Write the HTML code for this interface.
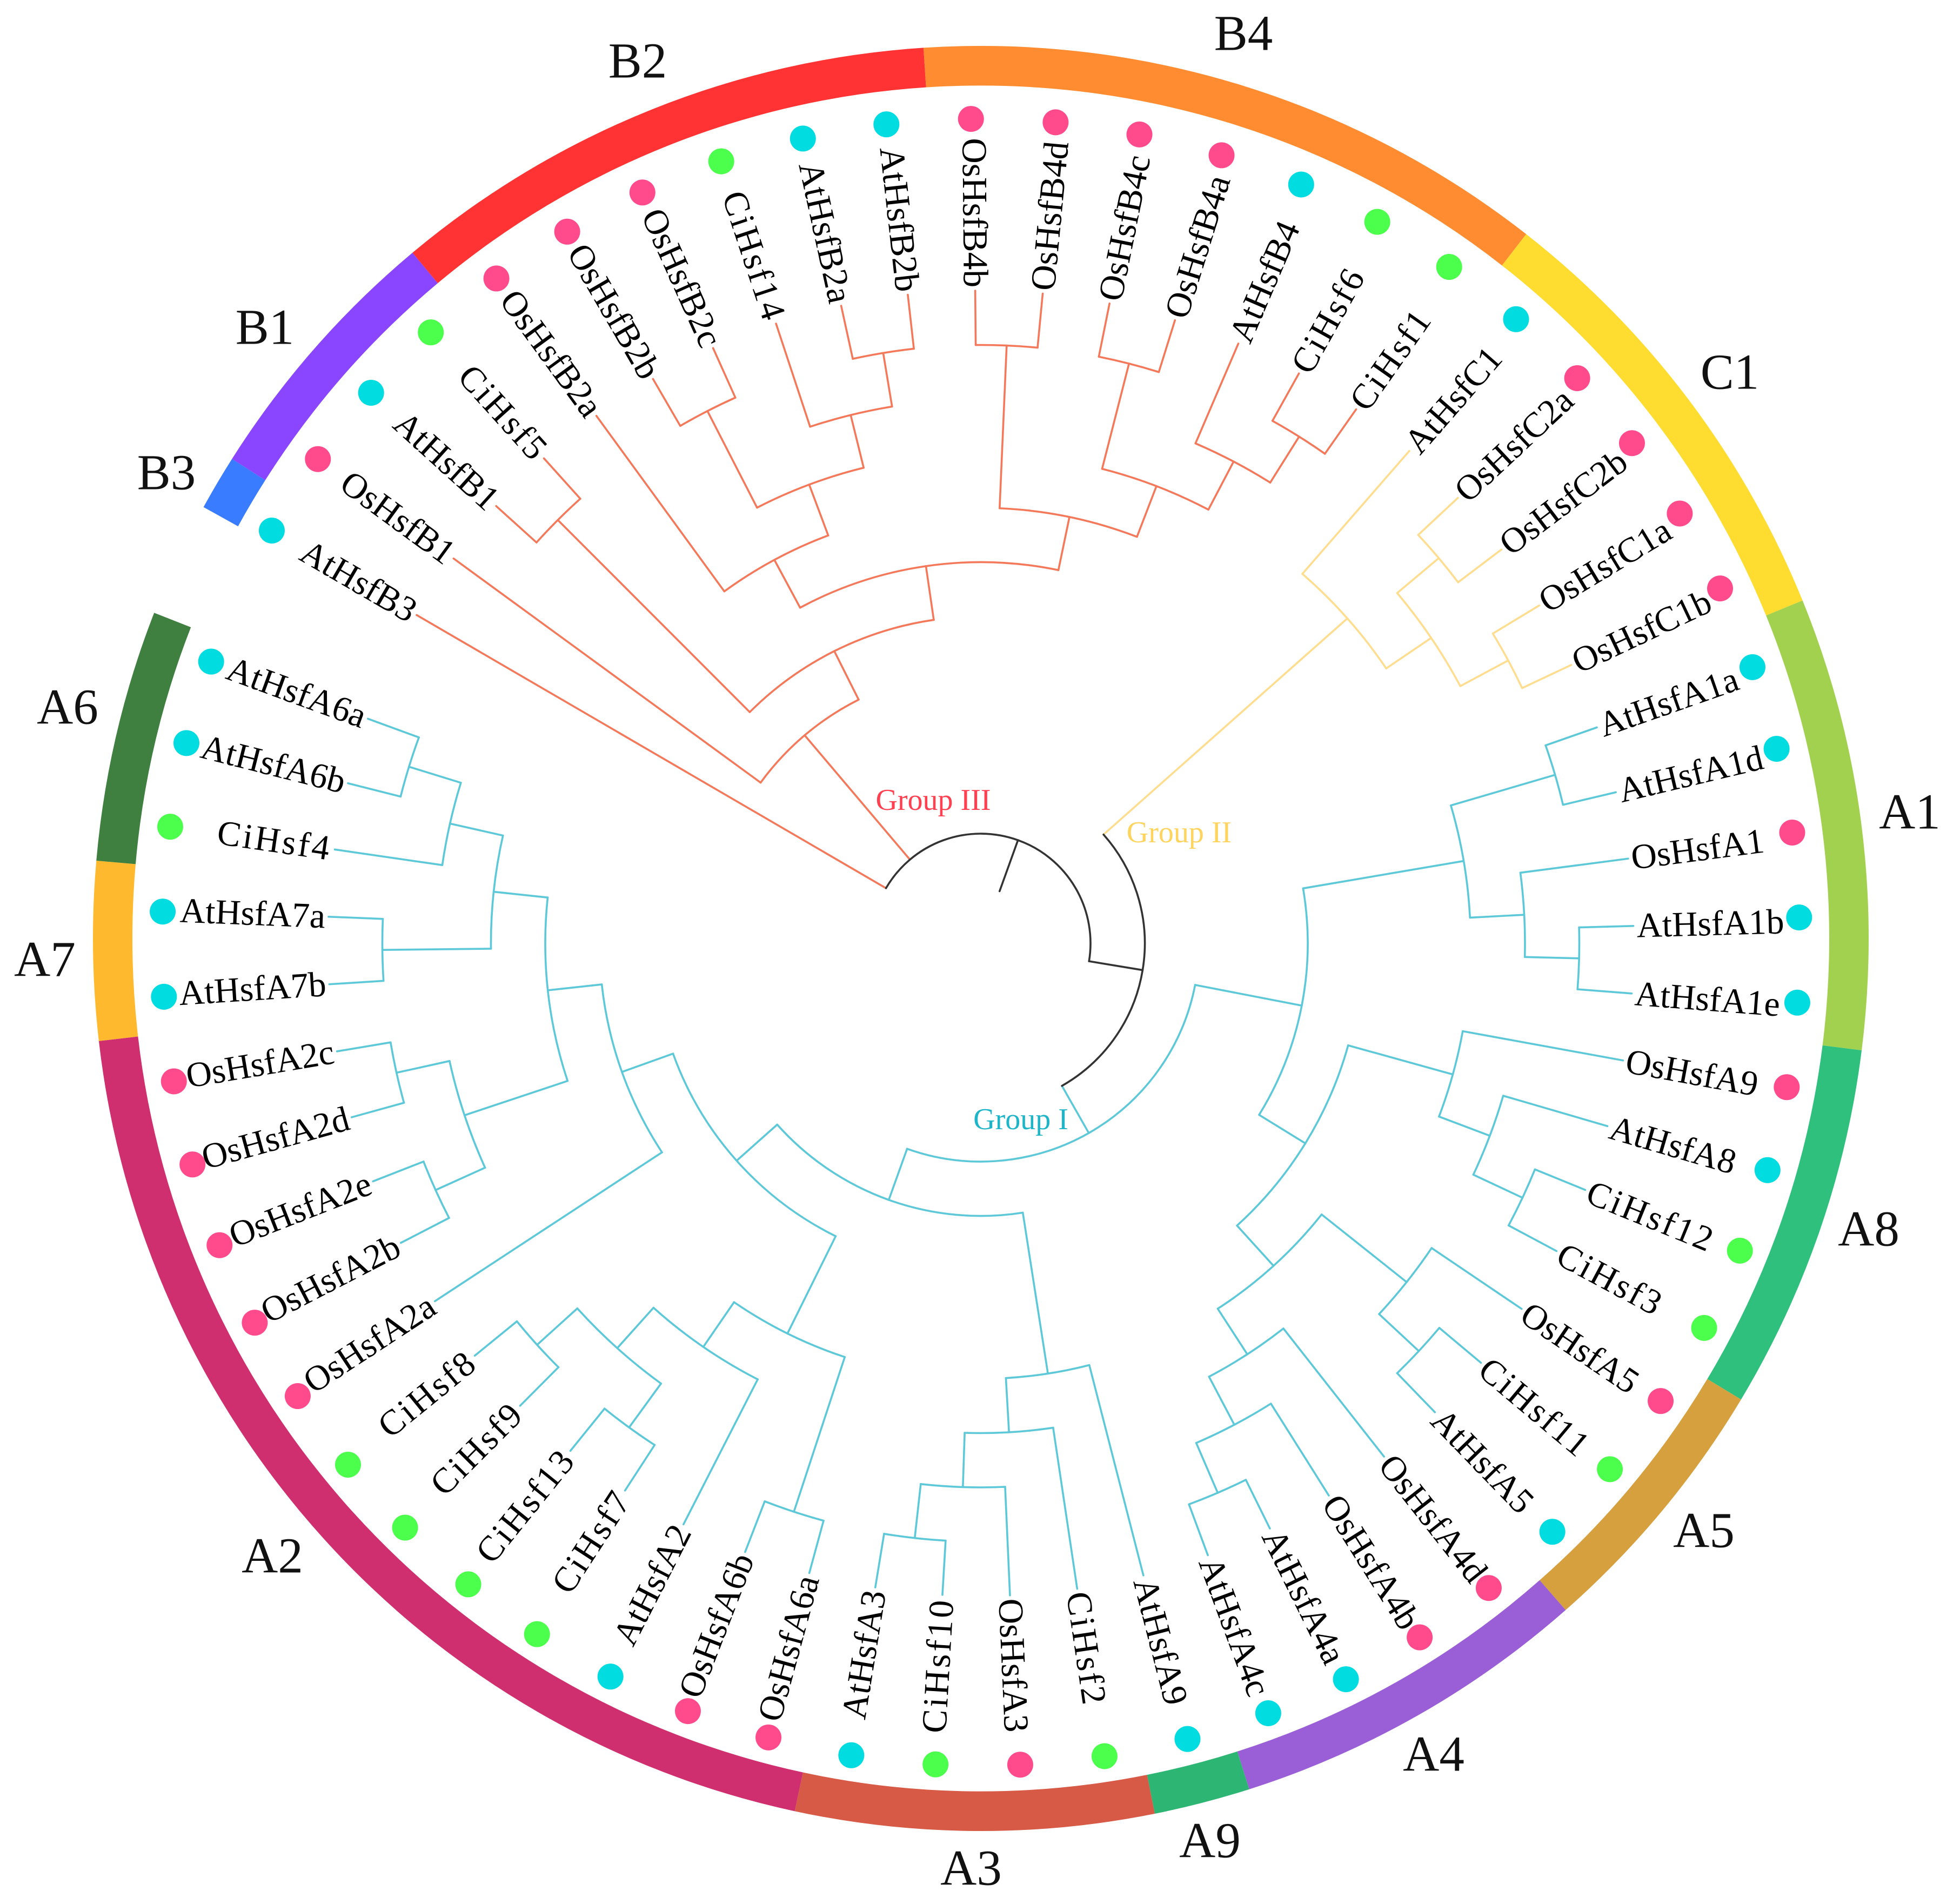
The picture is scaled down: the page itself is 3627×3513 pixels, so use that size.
<!DOCTYPE html>
<html lang="en">
<head>
<meta charset="utf-8">
<title>Hsf phylogenetic tree</title>
<style>
html,body{margin:0;padding:0;background:#fff;}
svg{display:block;font-family:"Liberation Serif",serif;}
.clade{font-size:93px;fill:#111;text-anchor:middle;dominant-baseline:central;}
.group{font-size:56px;text-anchor:middle;dominant-baseline:central;}
</style>
</head>
<body>
<svg id="chart" xmlns="http://www.w3.org/2000/svg" width="3627" height="3513" viewBox="0 0 3627 3513">
<rect x="0" y="0" width="3627" height="3513" fill="#ffffff"/>
<g id="ring"></g>
<g id="tree" fill="none" stroke-width="3.6" stroke-linejoin="round" stroke-linecap="round"></g>
<g id="labels"></g>
<g id="dots"></g>
<g>
<text class="clade" x="308" y="875">B3</text>
<text class="clade" x="490" y="606">B1</text>
<text class="clade" x="1180" y="113">B2</text>
<text class="clade" x="2301" y="62">B4</text>
<text class="clade" x="3201" y="689">C1</text>
<text class="clade" x="3534" y="1503">A1</text>
<text class="clade" x="3458" y="2275">A8</text>
<text class="clade" x="3153" y="2833">A5</text>
<text class="clade" x="2653" y="3247">A4</text>
<text class="clade" x="2239" y="3407">A9</text>
<text class="clade" x="1797" y="3458">A3</text>
<text class="clade" x="504" y="2880">A2</text>
<text class="clade" x="83" y="1776">A7</text>
<text class="clade" x="125" y="1309">A6</text>
</g>
<g>
<text class="group" x="1727" y="1481" fill="#ff4050">Group III</text>
<text class="group" x="2182" y="1541" fill="#ffd45e">Group II</text>
<text class="group" x="1889" y="2072" fill="#1fb5c9">Group I</text>
</g>
</svg>
<script>
// Clade ring: names and sector boundaries (degrees clockwise from 12 o'clock)
const cladeNames = ['B3','B1','B2','B4','C1','A1','A8','A5','A4','A9','A3','A2','A7','A6'];
const cladeStartDeg = [-61.1,-57.5,-39.8,-3.7,37.9,67.75,97.2,121.1,138.8,162.4,168.7,192.1,263.4,275];
const cladeEndDeg = [-57.5,-39.8,-3.7,37.9,67.75,97.2,121.1,138.8,162.4,168.7,192.1,263.4,275,291.4];

// Tree topology: [nodeHeight, child, child, ...]; a string is a leaf (height 0)
const groupIIIClade = [7,'OsHsfB1',
  [6,[1,'AtHsfB1','CiHsf5'],
    [5,
      [4,'OsHsfB2a',[3,[1,'OsHsfB2b','OsHsfB2c'],[2,'CiHsf14',[1,'AtHsfB2a','AtHsfB2b']]]],
      [4,[1,'OsHsfB4b','OsHsfB4d'],[3,[1,'OsHsfB4c','OsHsfB4a'],[2,'AtHsfB4',[1,'CiHsf6','CiHsf1']]]]
    ]]];
const groupIIClade = [3,'AtHsfC1',[2,[1,'OsHsfC2a','OsHsfC2b'],[1,'OsHsfC1a','OsHsfC1b']]];
const groupIUpperClade = [6,
  [3,[1,'AtHsfA1a','AtHsfA1d'],[2,'OsHsfA1',[1,'AtHsfA1b','AtHsfA1e']]],
  [5,
    [3,'OsHsfA9',[2,'AtHsfA8',[1,'CiHsf12','CiHsf3']]],
    [4,[2,'OsHsfA5',[1,'CiHsf11','AtHsfA5']],[3,'OsHsfA4d',[2,'OsHsfA4b',[1,'AtHsfA4a','AtHsfA4c']]]]
  ]];
const groupILowerClade = [7,
  [4,'AtHsfA9',[3,'CiHsf2',[2,'OsHsfA3',[1,'CiHsf10','AtHsfA3']]]],
  [6,
    [4,[1,'OsHsfA6a','OsHsfA6b'],[3,'AtHsfA2',[2,[1,'CiHsf7','CiHsf13'],[1,'CiHsf9','CiHsf8']]]],
    [5,'OsHsfA2a',[4,
      [2,[1,'OsHsfA2b','OsHsfA2e'],[1,'OsHsfA2d','OsHsfA2c']],
      [3,[1,'AtHsfA7b','AtHsfA7a'],[2,'CiHsf4',[1,'AtHsfA6b','AtHsfA6a']]]
    ]]
  ]];
const rootStemHeight = 11;
const rootArcHeight = 10;
const splitHeight = 9;
const groupIHeight = 8;

// Styling and geometry
const cladeColors = {B3:'#3a7cff',B1:'#8a46ff',B2:'#ff3333',B4:'#ff8c30',C1:'#ffdc30',A1:'#a2d150',A8:'#2fc07e',A5:'#d7a03f',A4:'#9a5ed6',A9:'#2db673',A3:'#d65a46',A2:'#cf2f6e',A7:'#ffb92e',A6:'#3f7f40'};
const speciesColors = {At:'#00dce0',Os:'#ff4a8c',Ci:'#4dff4d'};
const lineOrange = '#f4785a', lineYellow = '#fedd8e', lineTeal = '#5cc8d8', lineBlack = '#333333';
const NS = 'http://www.w3.org/2000/svg';
const treeCx = 1815, treeCy = 1746;
const ringCx = 1815, ringCy = 1737, ringOuter = 1643, ringInner = 1570, ringOval = 1.0055;
const dotCx = 1815, dotCy = 1744, dotOrbitX = 1515, dotOrbitY = 1524, dotRadius = 24, dotTiltDeg = -0.2;
const firstLeafDeg = -59.8, leafStepDeg = 5.931;
const tipRadius = 1208, heightStep = 100.5, labelRadius = 1214, labelSize = 65.5;

const rad = d => d * Math.PI / 180;
const leafAngle = i => firstLeafDeg + i * leafStepDeg;
const heightRadius = h => tipRadius - heightStep * h;
const polar = (a, r) => [treeCx + r * Math.sin(rad(a)), treeCy - r * Math.cos(rad(a))];
const fmt = p => p[0].toFixed(2) + ' ' + p[1].toFixed(2);

const treeLayer = document.getElementById('tree');
const labelLayer = document.getElementById('labels');
const dotLayer = document.getElementById('dots');
const ringLayer = document.getElementById('ring');

// Ring sectors
function ringPoint(a, r) {
  return (ringCx + r * Math.sin(rad(a))).toFixed(2) + ' ' + (ringCy - r * ringOval * Math.cos(rad(a))).toFixed(2);
}
cladeNames.forEach((name, i) => {
  const a0 = cladeStartDeg[i], a1 = cladeEndDeg[i];
  const large = a1 - a0 > 180 ? 1 : 0;
  const el = document.createElementNS(NS, 'path');
  
  
  el.setAttribute('fill', cladeColors[name]);
  el.setAttribute('d', 'M' + ringPoint(a0, ringOuter) +
    ' A' + ringOuter + ' ' + (ringOuter * ringOval) + ' 0 ' + large + ' 1 ' + ringPoint(a1, ringOuter) +
    ' L' + ringPoint(a1, ringInner) +
    ' A' + ringInner + ' ' + (ringInner * ringOval) + ' 0 ' + large + ' 0 ' + ringPoint(a0, ringInner) + ' Z');
  ringLayer.appendChild(el);
});

function drawRadial(a, r0, r1, color) {
  const el = document.createElementNS(NS, 'line');
  
  
  const p = polar(a, r0), q = polar(a, r1);
  el.setAttribute('x1', p[0].toFixed(2));
  el.setAttribute('y1', p[1].toFixed(2));
  el.setAttribute('x2', q[0].toFixed(2));
  el.setAttribute('y2', q[1].toFixed(2));
  el.setAttribute('stroke', color);
  treeLayer.appendChild(el);
}
function drawArc(a0, a1, r, color) {
  const el = document.createElementNS(NS, 'path');
  
  
  const large = a1 - a0 > 180 ? 1 : 0;
  el.setAttribute('d', 'M' + fmt(polar(a0, r)) + ' A' + r + ' ' + r + ' 0 ' + large + ' 1 ' + fmt(polar(a1, r)));
  el.setAttribute('stroke', color);
  treeLayer.appendChild(el);
}
function drawLeaf(name, a) {
  const dotA = a + dotTiltDeg;
  const dot = document.createElementNS(NS, 'circle');
  
  
  dot.setAttribute('cx', (dotCx + dotOrbitX * Math.sin(rad(dotA))).toFixed(2));
  dot.setAttribute('cy', (dotCy - dotOrbitY * Math.cos(rad(dotA))).toFixed(2));
  dot.setAttribute('r', dotRadius);
  dot.setAttribute('fill', speciesColors[name.slice(0, 2)]);
  dotLayer.appendChild(dot);

  const label = document.createElementNS(NS, 'text');
  
  
  const p = polar(a, labelRadius);
  const norm = ((a % 360) + 360) % 360;
  const rightSide = norm < 180;
  label.setAttribute('x', p[0].toFixed(2));
  label.setAttribute('y', p[1].toFixed(2));
  label.setAttribute('font-size', labelSize);
  label.setAttribute('fill', '#000000');
  label.setAttribute('dominant-baseline', 'central');
  label.setAttribute('text-anchor', rightSide ? 'start' : 'end');
  label.setAttribute('transform', 'rotate(' + (rightSide ? a - 90 : a + 90).toFixed(2) + ' ' + p[0].toFixed(2) + ' ' + p[1].toFixed(2) + ')');
  if (name.slice(0, 2) === 'Ci') label.setAttribute('letter-spacing', '4');
  label.textContent = name;
  labelLayer.appendChild(label);
}

let leafCounter = 0;
// Recursively draws a clade; returns its angle and radius
function drawClade(node, color) {
  if (typeof node === 'string') {
    const a = leafAngle(leafCounter);
    leafCounter += 1;
    drawLeaf(node, a);
    return {a: a, r: tipRadius};
  }
  const r = heightRadius(node[0]);
  const kids = node.slice(1).map(child => {
    const k = drawClade(child, color);
    drawRadial(k.a, r, k.r, color);
    return k;
  });
  const a0 = kids[0].a, a1 = kids[kids.length - 1].a;
  drawArc(a0, a1, r, color);
  return {a: (a0 + a1) / 2, r: r};
}

// Root: outgroup leaf, group III, then the split into groups II and I
const rootR = heightRadius(rootArcHeight);
const outgroup = drawClade('AtHsfB3', lineOrange);
drawRadial(outgroup.a, rootR, outgroup.r, lineOrange);
const group3 = drawClade(groupIIIClade, lineOrange);
drawRadial(group3.a, rootR, group3.r, lineOrange);

const splitR = heightRadius(splitHeight);
const group2 = drawClade(groupIIClade, lineYellow);
drawRadial(group2.a, splitR, group2.r, lineYellow);

const groupIR = heightRadius(groupIHeight);
const upperI = drawClade(groupIUpperClade, lineTeal);
drawRadial(upperI.a, groupIR, upperI.r, lineTeal);
const lowerI = drawClade(groupILowerClade, lineTeal);
drawRadial(lowerI.a, groupIR, lowerI.r, lineTeal);
drawArc(upperI.a, lowerI.a, groupIR, lineTeal);
const groupIAngle = (upperI.a + lowerI.a) / 2;
drawRadial(groupIAngle, splitR, groupIR, lineTeal);

drawArc(group2.a, groupIAngle, splitR, lineBlack);
const splitAngle = (group2.a + groupIAngle) / 2;
drawRadial(splitAngle, rootR, splitR, lineBlack);
drawArc(outgroup.a, splitAngle, rootR, lineBlack);
const rootAngle = (outgroup.a + splitAngle) / 2;
drawRadial(rootAngle, heightRadius(rootStemHeight), rootR, lineBlack);
</script>
</body>
</html>
